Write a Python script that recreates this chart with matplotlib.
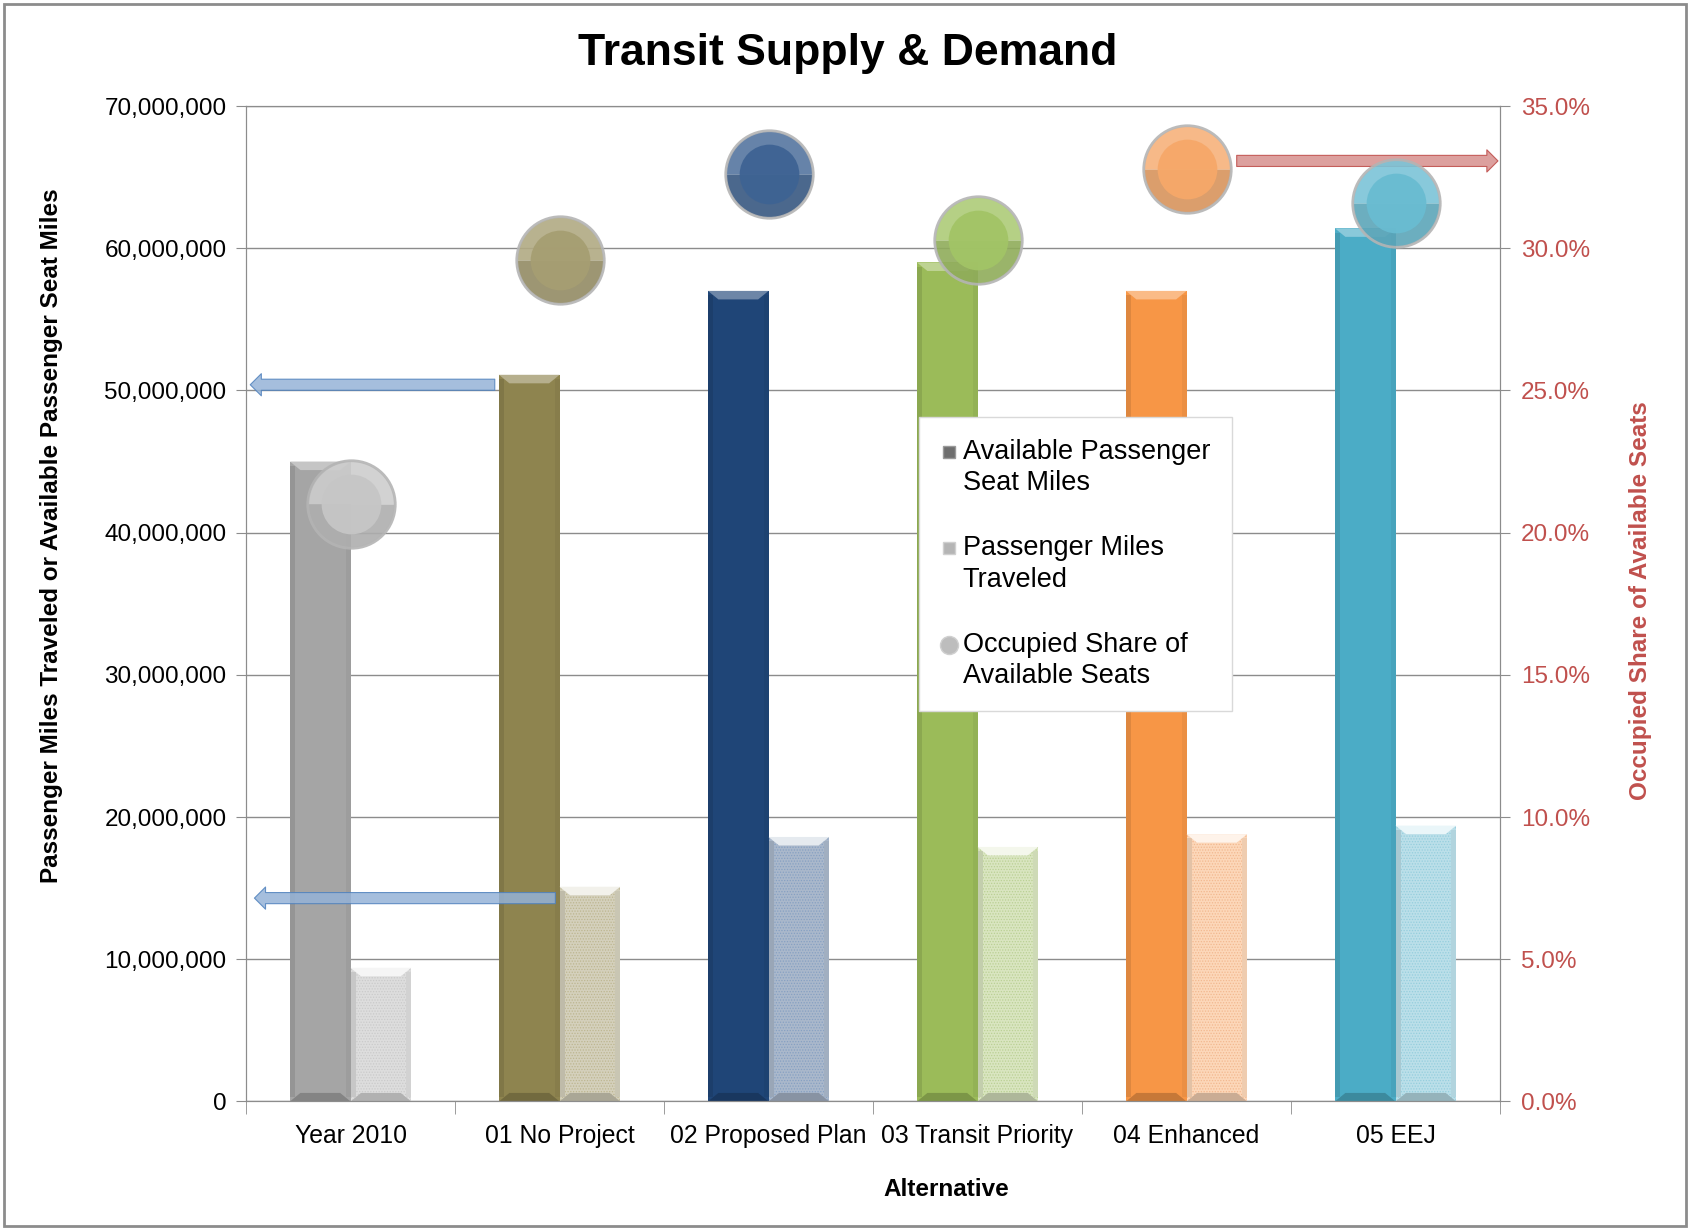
import matplotlib
matplotlib.use('Agg')
import matplotlib.pyplot as plt
import matplotlib.colors as mcolors
from matplotlib.lines import Line2D
from matplotlib.patches import Rectangle
from matplotlib.legend_handler import HandlerLine2D
from matplotlib.ticker import FuncFormatter, MultipleLocator
import numpy as np

plt.rcParams['font.family'] = ['Liberation Sans', 'DejaVu Sans']
plt.rcParams['hatch.linewidth'] = 0.6

alternatives = ["Year 2010", "01 No Project", "02 Proposed Plan",
                "03 Transit Priority", "04 Enhanced", "05 EEJ"]
seat_miles = [45.0e6, 51.1e6, 57.0e6, 59.0e6, 57.0e6, 61.4e6]
passenger_miles = [9.4e6, 15.1e6, 18.6e6, 17.9e6, 18.8e6, 19.4e6]
occupied_share = [0.210, 0.296, 0.326, 0.303, 0.328, 0.316]

bar_colors = ['#A5A5A5', '#8E844F', '#1F4577', '#9BBB59', '#F79646', '#4BACC6']
dot_colors = ['#CACACA', '#BDB690', '#86A0C2', '#BAD094', '#F2B88F', '#95CEDD']
circle_colors = ['#C6C6C6', '#A69E72', '#3E6393', '#A2C466', '#F6A869', '#69BCD1']
grid_gray = '#8C8C8C'
red = '#C0504D'


def mix(c, f):
    # f > 0 lighten toward white, f < 0 darken toward black
    r = np.array(mcolors.to_rgb(c))
    if f >= 0:
        return tuple(r + (1 - r) * f)
    return tuple(r * (1 + f))


class FirstLineHandler(HandlerLine2D):
    # put the legend key beside the first line of a two-line label
    def create_artists(self, legend, orig_handle, xdescent, ydescent,
                       width, height, fontsize, trans):
        arts = super().create_artists(legend, orig_handle, xdescent, ydescent,
                                      width, height, fontsize, trans)
        for a in arts:
            a.set_ydata(np.asarray(a.get_ydata()) + 0.6 * fontsize)
        return arts


fig = plt.figure(figsize=(16.9, 12.3), dpi=100)
ax = fig.add_axes([0.1456, 0.1045, 0.742, 0.8093])

x = np.arange(len(alternatives))
w = 0.29

# available seat miles bars
ax.bar(x - w / 2, seat_miles, w, color=bar_colors, linewidth=0, zorder=2)
# passenger miles bars, lighter with a fine dot texture
pmt_colors = [mix(c, 0.62) for c in bar_colors]
ax.bar(x + w / 2, passenger_miles, w, color=pmt_colors, edgecolor=dot_colors,
       hatch='......', linewidth=0, zorder=2)

# bevel look on the bars
bev_h = 0.6e6
bev_d = 0.05
for i in range(len(x)):
    for left, top, base, light in [(x[i] - w, seat_miles[i], bar_colors[i], 0.35),
                                   (x[i], passenger_miles[i], pmt_colors[i], 0.7)]:
        ax.fill([left, left + w, left + w - bev_d, left + bev_d],
                [top, top, top - bev_h, top - bev_h],
                color=mix(base, light), lw=0, zorder=2.2)
        ax.fill([left, left + w, left + w - bev_d, left + bev_d],
                [0, 0, bev_h, bev_h],
                color=mix(base, -0.2), lw=0, zorder=2.2)
        ax.bar(left + 0.012, top - bev_h, 0.024, bottom=bev_h / 2,
               color=mix(base, -0.1), lw=0, zorder=2.1)
        ax.bar(left + w - 0.012, top - bev_h, 0.024, bottom=bev_h / 2,
               color=mix(base, -0.05), lw=0, zorder=2.1)

ax.set_xlim(-0.5, len(x) - 0.5)
ax.set_ylim(0, 70e6)
ax.yaxis.set_major_locator(MultipleLocator(10e6))
ax.yaxis.set_major_formatter(FuncFormatter(lambda v, _: f'{v:,.0f}'))
ax.yaxis.grid(True, color=grid_gray, lw=1)
ax.set_axisbelow(True)
ax.tick_params(axis='y', length=7, color=grid_gray, labelsize=17.5, pad=7)
ax.set_xticks(x)
ax.set_xticklabels(alternatives)
ax.set_xticks(np.arange(-0.5, len(x), 1), minor=True)
ax.tick_params(axis='x', which='major', length=0, labelsize=17.8, pad=16)
ax.tick_params(axis='x', which='minor', length=9, color=grid_gray)
for s in ax.spines.values():
    s.set_color(grid_gray)

# arrows pointing from the No Project bars to the left axis
arrow_blue = dict(arrowstyle='simple,head_length=0.8,head_width=1.6,tail_width=0.8',
                  mutation_scale=10, fc='#95B3D7', ec='#4F81BD', lw=0.8,
                  alpha=0.85, shrinkA=0, shrinkB=0)
ax.annotate('', xy=(-0.48, 50.4e6), xytext=(0.69, 50.4e6),
            arrowprops=arrow_blue, zorder=5)
ax.annotate('', xy=(-0.46, 14.3e6), xytext=(0.98, 14.3e6),
            arrowprops=arrow_blue, zorder=5)

ax2 = ax.twinx()
ax2.set_ylim(0, 0.35)
ax2.yaxis.set_major_locator(MultipleLocator(0.05))
ax2.yaxis.set_major_formatter(FuncFormatter(lambda v, _: f'{v * 100:.1f}%'))
ax2.tick_params(axis='y', length=7, color=grid_gray, labelcolor=red,
                labelsize=17.5, pad=8)
for s in ax2.spines.values():
    s.set_color(grid_gray)

# occupied share circles: two-tone ring, rim, flat inner disc
for i in range(len(x)):
    c = circle_colors[i]
    ax2.plot(x[i], occupied_share[i], 'o', ms=62, fillstyle='top',
             mfc=mix(c, 0.12), mfcalt=mix(c, -0.12), mec='none',
             alpha=0.9, zorder=3)
    ax2.plot(x[i], occupied_share[i], 'o', ms=63, mfc='none', mec='#B4B4B4',
             mew=2, alpha=0.9, zorder=3.05)
    ax2.plot(x[i], occupied_share[i], 'o', ms=43, mfc=c,
             mec='none', alpha=0.95, zorder=3.1)

ax2.annotate('', xy=(5.49, 0.3307), xytext=(4.24, 0.3307), zorder=2.5,
             arrowprops=dict(arrowstyle='simple,head_length=0.8,head_width=1.6,tail_width=0.8',
                             mutation_scale=10, fc='#D99694', ec=red, lw=0.8,
                             alpha=0.9, shrinkA=0, shrinkB=0))

handles = [
    Line2D([], [], ls='none', marker='s', ms=9, mfc='#6E6E6E', mec='#9A9A9A'),
    Line2D([], [], ls='none', marker='s', ms=9, mfc='#B5B5B5', mec='#D0D0D0'),
    Line2D([], [], ls='none', marker='o', ms=13, mfc='#BDBDBD', mec='#D0D0D0'),
]
labels = ["Available Passenger\nSeat Miles", "Passenger Miles\nTraveled",
          "Occupied Share of\nAvailable Seats"]
leg = ax2.legend(handles, labels, loc='upper left', bbox_to_anchor=(0.537, 0.6876),
                 frameon=True, fancybox=False, edgecolor='#D9D9D9', framealpha=1,
                 fontsize=19.5, labelspacing=1.45, handlelength=0.55,
                 handletextpad=0.25, borderpad=0.8, borderaxespad=0,
                 handler_map={Line2D: FirstLineHandler()})
for t in leg.get_texts():
    t.set_linespacing(1.27)
leg.set_zorder(10)

fig.text(848 / 1690, 1 - 54 / 1230, 'Transit Supply & Demand', ha='center',
         va='center', fontsize=32, fontweight='bold')
fig.text(52 / 1690, 1 - 536 / 1230,
         'Passenger Miles Traveled or Available Passenger Seat Miles',
         rotation=90, ha='center', va='center', fontsize=17.5, fontweight='bold')
fig.text(1641 / 1690, 1 - 601 / 1230, 'Occupied Share of Available Seats',
         rotation=90, ha='center', va='center', fontsize=17.5,
         fontweight='bold', color=red)
fig.text(946 / 1690, 1 - 1190 / 1230, 'Alternative', ha='center', va='center',
         fontsize=17.5, fontweight='bold')

fig.patches.append(Rectangle((0.0024, 0.003), 0.9952, 0.994, transform=fig.transFigure,
                             fill=False, ec=grid_gray, lw=2))

fig.savefig('out.png', dpi=100)
